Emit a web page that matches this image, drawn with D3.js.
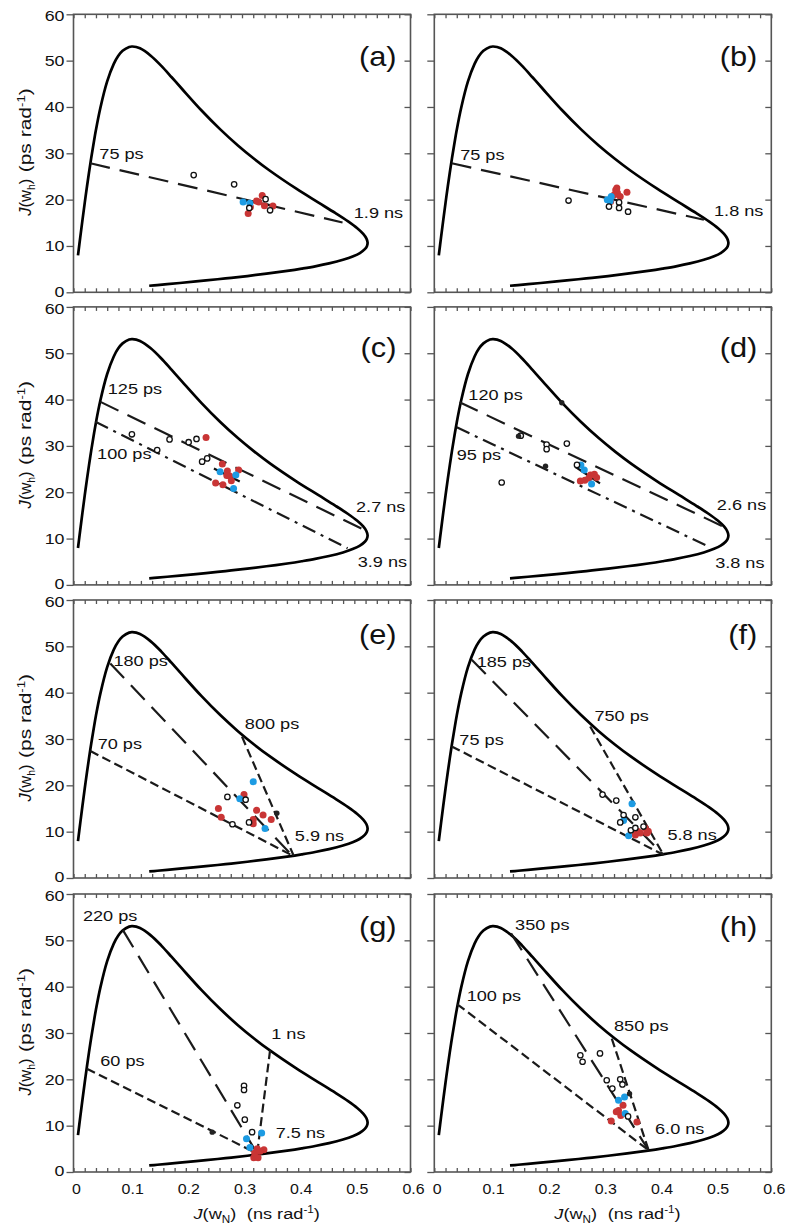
<!DOCTYPE html>
<html><head><meta charset="utf-8">
<script src="https://cdn.jsdelivr.net/npm/d3@7"></script>
<style>
body{margin:0;background:#fff}
svg{display:block}
text{font-family:Arial,"Liberation Sans",sans-serif;fill:#111}
</style>
</head><body>
<svg id="chart" width="800" height="1231"></svg>
<script>
// ---------------- DATA ----------------
const panelIds = ["a","b","c","d","e","f","g","h"];
const xTickValues = [0,0.1,0.2,0.3,0.4,0.5,0.6];
const xTickLabels = ["0","0.1","0.2","0.3","0.4","0.5","0.6"];
const xMinorTicks = [0,0.02,0.04,0.06,0.08,0.1,0.12,0.14,0.16,0.18,0.2,0.22,0.24,0.26,0.28,0.3,0.32,0.34,0.36,0.38,0.4,0.42,0.44,0.46,0.48,0.5,0.52,0.54,0.56,0.58,0.6];
const yTickValues = [0,10,20,30,40,50,60];
const yTickLabels = ["0","10","20","30","40","50","60"];

// spectral density curve: [J(wN) ns/rad, J(wh) ps/rad]
const curvePoints = [
 [0.0080,7.96],[0.0120,11.85],[0.0160,15.64],[0.0200,19.31],[0.0240,22.83],[0.0300,27.78],
 [0.0360,32.28],[0.0399,35.02],[0.0479,39.84],[0.0598,45.46],[0.0717,49.30],[0.0795,51.00],
 [0.0874,52.13],[0.0991,52.96],[0.1049,53.05],[0.1184,52.65],[0.1375,51.07],[0.1564,48.87],
 [0.1748,46.41],[0.1930,43.93],[0.2280,39.24],[0.2613,35.16],[0.2927,31.69],[0.3220,28.77],
 [0.3491,26.29],[0.3967,22.36],[0.4355,19.41],[0.4659,17.12],[0.4889,15.30],[0.5052,13.83],
 [0.5158,12.61],[0.5216,11.59],[0.5236,10.71],[0.5224,9.96],[0.5187,9.31],[0.5099,8.47],
 [0.4981,7.78],[0.4798,7.01],[0.4551,6.23],[0.4303,5.61],[0.4063,5.11],[0.3838,4.68],
 [0.3436,4.02],[0.3095,3.51],[0.2808,3.12],[0.2565,2.81],[0.2181,2.34],[0.1892,2.01],
 [0.1669,1.76],[0.1491,1.56],[0.1348,1.41]
];

// reference lines: [panel, x1, y1, x2, y2, kind]
const refLines = [
 ["a",0.030,27.85,0.479,15.07,"long"],
 ["b",0.031,27.85,0.480,15.65,"long"],
 ["c",0.048,39.5,0.518,11.85,"long"],
 ["c",0.039,35.2,0.488,7.9,"dashdot"],
 ["d",0.045,39.4,0.518,12.4,"long"],
 ["d",0.040,34.0,0.488,8.3,"dashdot"],
 ["e",0.030,27.4,0.389,4.9,"short"],
 ["e",0.0655,46.3,0.389,4.9,"long"],
 ["e",0.300,30.5,0.392,4.8,"short"],
 ["f",0.031,28.4,0.408,5.0,"short"],
 ["f",0.0666,47.1,0.408,5.0,"long"],
 ["f",0.2775,32.7,0.408,5.0,"short"],
 ["g",0.0238,22.3,0.327,4.0,"short"],
 ["g",0.088,52.2,0.327,4.0,"long"],
 ["g",0.350,26.3,0.327,4.0,"short"],
 ["h",0.041,36.2,0.3815,4.7,"short"],
 ["h",0.1367,51.5,0.3815,4.7,"long"],
 ["h",0.316,28.8,0.3815,4.7,"short"]
];

// short solid segments: [panel, x1, y1, x2, y2]
const solidSegments = [
 ["a",0.300,19.9,0.360,18.6],
 ["c",0.250,25.1,0.296,22.3],
 ["d",0.251,25.5,0.295,21.9]
];

// correlation time labels: [panel, text, x, y]
const timeLabels = [
 ["a","75 ps",0.046,28.8],["a","1.9 ns",0.499,16.0],
 ["b","75 ps",0.046,28.6],["b","1.8 ns",0.498,16.4],
 ["c","125 ps",0.061,41.1],["c","100 ps",0.042,27.1],["c","2.7 ns",0.503,15.8],["c","3.9 ns",0.506,3.9],
 ["d","120 ps",0.0606,39.9],["d","95 ps",0.040,26.9],["d","2.6 ns",0.503,16.2],["d","3.8 ns",0.500,3.7],
 ["e","180 ps",0.071,45.8],["e","800 ps",0.305,32.2],["e","70 ps",0.043,27.9],["e","5.9 ns",0.394,8.0],
 ["f","185 ps",0.0755,45.5],["f","750 ps",0.285,33.8],["f","75 ps",0.0446,28.6],["f","5.8 ns",0.415,8.3],
 ["g","220 ps",0.0167,54.25],["g","1 ns",0.352,28.6],["g","60 ps",0.0476,22.8],["g","7.5 ns",0.360,7.35],
 ["h","350 ps",0.1438,52.2],["h","850 ps",0.320,30.5],["h","100 ps",0.0576,37.0],["h","6.0 ns",0.393,8.1]
];

// experimental points: [panel, J(wN), J(wh)]
const openPoints = [
 ["a",0.214,25.3],["a",0.286,23.3],["a",0.342,20.1],["a",0.350,17.7],["a",0.313,18.2],
 ["b",0.239,19.8],["b",0.311,18.5],["b",0.329,19.4],["b",0.329,18.2],["b",0.345,17.4],
 ["c",0.104,32.5],["c",0.149,29.1],["c",0.171,31.4],["c",0.205,30.8],["c",0.219,31.5],["c",0.238,27.3],["c",0.229,26.6],
 ["d",0.154,32.2],["d",0.200,30.3],["d",0.200,29.3],["d",0.236,30.5],["d",0.120,22.1],["d",0.254,25.9],
 ["e",0.274,17.5],["e",0.3065,16.9],["e",0.283,11.6],["e",0.3125,12.0],
 ["f",0.2995,18.0],["f",0.324,16.7],["f",0.337,13.6],["f",0.331,12.0],["f",0.358,13.1],["f",0.350,10.3],["f",0.358,10.8],["f",0.3725,11.1],
 ["g",0.2917,14.4],["g",0.305,11.3],["g",0.3036,18.6],["g",0.3036,17.7],["g",0.318,8.6],
 ["h",0.260,25.2],["h",0.264,23.8],["h",0.295,25.6],["h",0.307,19.8],["h",0.317,18.0],["h",0.331,20.0],["h",0.335,18.9],["h",0.345,12.0]
];
const darkPoints = [
 ["d",0.150,32.1],["d",0.198,25.6],["d",0.227,39.3],
 ["e",0.362,14.0],
 ["g",0.247,8.6],
 ["h",0.3476,16.9]
];
const redPoints = [
 ["a",0.311,17.0],["a",0.315,18.4],["a",0.326,19.7],["a",0.336,20.9],["a",0.340,18.7],["a",0.355,18.6],["a",0.330,19.5],
 ["b",0.323,22.1],["b",0.326,21.5],["b",0.343,21.6],["b",0.331,20.7],["b",0.320,21.0],["b",0.314,19.6],["b",0.325,22.5],
 ["c",0.236,31.8],["c",0.265,26.1],["c",0.274,24.6],["c",0.294,24.8],["c",0.253,22.0],["c",0.266,21.6],["c",0.278,23.5],["c",0.281,22.5],["c",0.273,23.6],
 ["d",0.260,22.4],["d",0.268,22.6],["d",0.278,23.7],["d",0.285,23.9],["d",0.289,23.2],["d",0.275,23.0],
 ["e",0.3036,18.0],["e",0.258,15.0],["e",0.263,13.1],["e",0.326,14.6],["e",0.3375,13.6],["e",0.352,12.6],["e",0.320,12.6],["e",0.320,11.7],
 ["f",0.358,9.3],["f",0.367,9.7],["f",0.3755,10.8],["f",0.381,10.1],["f",0.3785,9.7],["f",0.362,10.1],
 ["g",0.321,3.1],["g",0.3286,3.1],["g",0.339,4.8],["g",0.327,5.0],["g",0.3226,4.1],["g",0.332,4.5],
 ["h",0.315,11.0],["h",0.3607,10.8],["h",0.328,13.3],["h",0.332,12.2],["h",0.336,14.4],["h",0.324,13.0]
];
const bluePoints = [
 ["a",0.302,19.5],["a",0.314,19.2],
 ["b",0.308,20.0],["b",0.315,20.7],["b",0.313,19.7],
 ["c",0.261,24.4],["c",0.289,23.7],["c",0.285,20.8],
 ["d",0.261,25.9],["d",0.267,24.8],["d",0.280,21.8],
 ["e",0.320,20.8],["e",0.296,17.1],["e",0.341,10.7],
 ["f",0.352,16.0],["f",0.337,12.4],["f",0.346,9.1],
 ["g",0.308,7.2],["g",0.335,8.4],["g",0.314,5.3],
 ["h",0.328,15.5],["h",0.3387,16.2],["h",0.340,12.6]
];

// ---------------- LAYOUT / STYLE ----------------
const colLeft = [73.5, 434.3];
const rowTop = [14.3, 306.9, 600, 894];
const PW = 337, PH = 278;
const letterBaseline = [52, 50, 44, 42];
const dashes = {long:"20,10", short:"9,4.5", dashdot:"14,6,3,6"};
const RED = "#c93535", BLUE = "#1c9be3", FRAME = "#555";

const svg = d3.select("#chart");

function stretchedText(g, x, y, str, size, sx, anchor){
  return g.append("text")
    .attr("transform", `translate(${x},${y}) scale(${sx},1)`)
    .attr("text-anchor", anchor)
    .style("font-size", size + "px")
    .text(str);
}
// scale a text element along its reading direction so it spans targetWidth
function fitText(t, tx, ty, rot, targetWidth){
  const w = t.node().getComputedTextLength();
  const sx = w > 0 ? targetWidth / w : 1;
  t.attr("transform", `translate(${tx},${ty}) rotate(${rot}) scale(${sx},1)`);
}

panelIds.forEach((id, i) => {
  const col = i % 2, row = Math.floor(i / 2);
  const x0 = colLeft[col], y0 = rowTop[row];
  const x = d3.scaleLinear().domain([0, 0.6]).range([x0, x0 + PW]);
  const y = d3.scaleLinear().domain([0, 60]).range([y0 + PH, y0]);
  const g = svg.append("g");

  // ticks
  const styleAxis = sel => {
    sel.select(".domain").remove();
    sel.selectAll("line").attr("stroke", FRAME).attr("stroke-width", 1.3);
  };
  g.append("g").attr("transform", `translate(${x0},0)`)
    .call(d3.axisLeft(y).tickValues(yTickValues).tickSize(7).tickFormat(""))
    .call(styleAxis);
  g.append("g").attr("transform", `translate(${x0 + PW},0)`)
    .call(d3.axisLeft(y).tickValues(yTickValues).tickSize(6).tickFormat(""))
    .call(styleAxis);
  g.append("g").attr("transform", `translate(0,${y0})`)
    .call(d3.axisBottom(x).tickValues(xMinorTicks).tickSize(4).tickFormat(""))
    .call(styleAxis);
  g.append("g").attr("transform", `translate(0,${y0 + PH})`)
    .call(d3.axisTop(x).tickValues(xMinorTicks).tickSize(4).tickFormat(""))
    .call(styleAxis);

  // frame
  g.append("rect").attr("x", x0).attr("y", y0).attr("width", PW).attr("height", PH)
    .attr("fill", "none").attr("stroke", FRAME).attr("stroke-width", 1.6);

  // y tick labels
  if (col === 0) {
    yTickValues.forEach((v, k) => {
      const nudge = v === 0 ? -1.2 : (v === 60 ? 1.2 : 0);
      stretchedText(g, x0 - 9, y(v) + 5.5 + nudge, yTickLabels[k], 15.5, 1.15, "end");
    });
    // y axis title
    const t1 = g.append("text").attr("text-anchor", "middle").style("font-size", "16px");
    t1.append("tspan").style("font-style", "italic").text("J");
    t1.append("tspan").text("(w");
    t1.append("tspan").attr("dy", 4).style("font-size", "10px").text("h");
    t1.append("tspan").attr("dy", -4).text(")");
    fitText(t1, 31, y0 + 183, -90, 37);
    const t2 = g.append("text").attr("text-anchor", "middle").style("font-size", "16px");
    t2.append("tspan").text("(ps rad");
    t2.append("tspan").attr("dy", -6).style("font-size", "10px").text("-1");
    t2.append("tspan").attr("dy", 6).text(")");
    fitText(t2, 31, y0 + 116, -90, 84);
  }
  // x tick labels & title (bottom row)
  if (row === 3) {
    xTickValues.forEach((v, k) => {
      stretchedText(g, x(v) + 3, y0 + PH + 22, xTickLabels[k], 15.5, 1.03, "middle");
    });
    const t = g.append("text").attr("text-anchor", "start").style("font-size", "15.5px");
    t.append("tspan").style("font-style", "italic").text("J");
    t.append("tspan").text("(w");
    t.append("tspan").attr("dy", 4).style("font-size", "10px").text("N");
    t.append("tspan").attr("dy", -4).text(")");
    t.append("tspan").attr("dx", 9).text("(ns rad");
    t.append("tspan").attr("dy", -6).style("font-size", "10px").text("-1");
    t.append("tspan").attr("dy", 6).text(")");
    fitText(t, x0 + 120, y0 + PH + 47, 0, 116);
  }

  // spectral density curve
  const line = d3.line().x(d => x(d[0])).y(d => y(d[1])).curve(d3.curveCatmullRom.alpha(0.5));
  g.append("path").datum(curvePoints).attr("d", line)
    .attr("fill", "none").attr("stroke", "#000").attr("stroke-width", 2.7)
    .attr("stroke-linejoin", "round");

  // reference lines
  refLines.filter(d => d[0] === id).forEach(d => {
    g.append("line")
      .attr("x1", x(d[1])).attr("y1", y(d[2])).attr("x2", x(d[3])).attr("y2", y(d[4]))
      .attr("stroke", "#1a1a1a").attr("stroke-width", 2.2)
      .attr("stroke-dasharray", dashes[d[5]]);
  });
  solidSegments.filter(d => d[0] === id).forEach(d => {
    g.append("line")
      .attr("x1", x(d[1])).attr("y1", y(d[2])).attr("x2", x(d[3])).attr("y2", y(d[4]))
      .attr("stroke", "#111").attr("stroke-width", 2.2);
  });

  // points
  g.selectAll(null).data(redPoints.filter(d => d[0] === id)).join("circle")
    .attr("cx", d => x(d[1])).attr("cy", d => y(d[2])).attr("r", 3.5).attr("fill", RED);
  g.selectAll(null).data(bluePoints.filter(d => d[0] === id)).join("circle")
    .attr("cx", d => x(d[1])).attr("cy", d => y(d[2])).attr("r", 3.5).attr("fill", BLUE);
  g.selectAll(null).data(openPoints.filter(d => d[0] === id)).join("circle")
    .attr("cx", d => x(d[1])).attr("cy", d => y(d[2])).attr("r", 2.7)
    .attr("fill", "#fff").attr("stroke", "#111").attr("stroke-width", 1.3);
  g.selectAll(null).data(darkPoints.filter(d => d[0] === id)).join("circle")
    .attr("cx", d => x(d[1])).attr("cy", d => y(d[2])).attr("r", 2.7)
    .attr("fill", "#222");

  // time labels
  timeLabels.filter(d => d[0] === id).forEach(d => {
    stretchedText(g, x(d[2]), y(d[3]), d[1], 15.5, 1.17, "start");
  });

  // panel letter
  stretchedText(g, x0 + PW - 14, y0 + letterBaseline[row], `(${id})`, 28.5, 1.08, "end");
});
</script>
</body></html>
